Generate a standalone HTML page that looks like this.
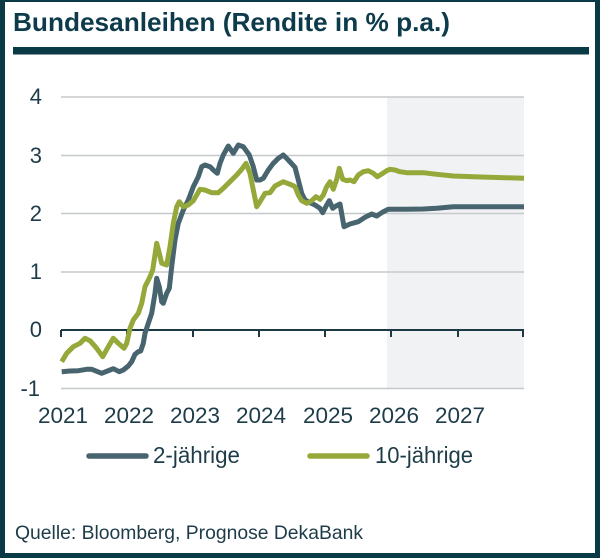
<!DOCTYPE html>
<html>
<head>
<meta charset="utf-8">
<style>
  html,body{margin:0;padding:0;background:#0b3a47;}
  svg{display:block;}
  text{font-family:"Liberation Sans",sans-serif;}
</style>
</head>
<body>
<svg width="600" height="558" viewBox="0 0 600 558" xmlns="http://www.w3.org/2000/svg">
  <rect x="0" y="0" width="600" height="558" fill="#0b3a47"/>
  <rect x="5" y="2" width="590" height="551" fill="#ffffff"/>

  <!-- Title -->
  <text x="13" y="31" font-size="26" font-weight="bold" fill="#0d3b4b" textLength="437" lengthAdjust="spacingAndGlyphs">Bundesanleihen (Rendite in % p.a.)</text>
  <rect x="13" y="47" width="576" height="7.5" fill="#0b3a47"/>

  <!-- Forecast shading -->
  <rect x="387" y="97" width="137" height="291" fill="#f0f2f3"/>

  <!-- Gridlines -->
  <g stroke="#c5c9cc" stroke-width="1.5">
    <line x1="61" y1="97" x2="524" y2="97"/>
    <line x1="61" y1="155.5" x2="524" y2="155.5"/>
    <line x1="61" y1="213.5" x2="524" y2="213.5"/>
    <line x1="61" y1="272" x2="524" y2="272"/>
    <line x1="61" y1="388.5" x2="524" y2="388.5"/>
  </g>
  <!-- Zero axis -->
  <line x1="61" y1="330" x2="524" y2="330" stroke="#1d3a44" stroke-width="2"/>
  <g stroke="#1d3a44" stroke-width="2">
    <line x1="61" y1="330" x2="61" y2="337"/>
    <line x1="127" y1="330" x2="127" y2="337"/>
    <line x1="193" y1="330" x2="193" y2="337"/>
    <line x1="259" y1="330" x2="259" y2="337"/>
    <line x1="325" y1="330" x2="325" y2="337"/>
    <line x1="391" y1="330" x2="391" y2="337"/>
    <line x1="458" y1="330" x2="458" y2="337"/>
    <line x1="523" y1="330" x2="523" y2="337"/>
  </g>

  <!-- Y labels -->
  <g font-size="22" fill="#1d3c48" text-anchor="end">
    <text x="42" y="104">4</text>
    <text x="42" y="163">3</text>
    <text x="42" y="221">2</text>
    <text x="42" y="279">1</text>
    <text x="42" y="337">0</text>
    <text x="40" y="396">-1</text>
  </g>

  <!-- X labels -->
  <g font-size="22.5" fill="#1d3c48" text-anchor="middle">
    <text x="63" y="423">2021</text>
    <text x="129" y="423">2022</text>
    <text x="195" y="423">2023</text>
    <text x="261" y="423">2024</text>
    <text x="328" y="423">2025</text>
    <text x="394" y="423">2026</text>
    <text x="460" y="423">2027</text>
  </g>

  <!-- 2-jährige -->
  <polyline fill="none" stroke="#47646f" stroke-width="5" stroke-linejoin="round" stroke-linecap="butt"
    points="61.7,371.7 70,371 78.3,370.7 86.7,369.3 91.7,369.3 101.7,373.3 110,370 113.3,368.7 119.3,371.7 123.3,370 128.3,366 131.7,361.7 135,354.3 138.3,351.7 140.7,351 143.3,343.3 145,333.3 148.3,323.3 151.7,313.3 155,293.3 156.7,278.3 159.3,286.7 161.7,301.7 163.3,303.3 166.7,293.3 169.3,288.3 171.7,266.7 175,240 178.3,223.3 183.3,210 188.3,200 193.3,186.7 198.3,176.7 201.7,166.7 205,165 210,166.7 213.3,170 217.3,173.3 220,163.3 223.3,155 228.3,146 233.3,153.3 238.3,145 243.3,146.7 249.3,155 253.3,166.7 256.7,180 260,180 263.3,178.3 268.3,170 273.3,163.3 278.3,158.3 283.3,155 288.3,160 295,167.3 298.3,180 301.7,193.3 305,200 310,202.7 315,205 320,208.3 322.7,212.7 326.7,205 329.3,200.7 332.7,208.3 336,206 340,204 344,226.7 350,224 358.3,221.7 365,217.3 371.7,214 376.7,216 383.3,211.7 388.3,209.3 406.7,209.3 423.3,209 436.7,208.3 453.3,206.7 524,206.7"/>

  <!-- 10-jährige -->
  <polyline fill="none" stroke="#95a83a" stroke-width="5" stroke-linejoin="round" stroke-linecap="butt"
    points="61.7,361.7 66.7,353.3 73.3,346.7 80,343.3 85,338.3 90,340.7 96.7,348.3 102.7,356.7 108.3,346.7 113.3,338.3 118.3,343.3 124,348.3 126.7,343.3 130,328.3 133.3,320 138.3,313.3 141.7,303.3 145,286.7 150,276.7 152.7,270 156.7,243.3 159.3,253.3 161.7,263.3 166.7,265 170,246.7 173.3,223.3 176.7,206.7 179.3,201.7 183.3,206.7 188.3,205 193.3,200.7 196.7,195 200,189.3 205,190 211.7,192.7 218.3,192.7 223.3,188.3 230,181.7 236.7,175 241.7,169.3 246,163.3 250,173.3 253.3,190 256.7,206.7 260,201.7 265,193.3 270,192.7 275,186 283.3,181.7 291.7,185 295,186.7 298.3,195 301.7,200.7 306.7,203.3 311.7,200.7 316,196.7 320,199.3 323.3,195 326.7,186.7 330,181.7 333.3,189.3 336.7,179.3 339.3,168.3 342.7,179.3 346.7,180.7 350,180 354,181.7 358.3,175 363.3,171.7 368.3,170.7 373.3,173.3 377.3,176.7 381.7,174 386.7,170.7 390,169.3 395,170 400,171.7 406.7,172.7 423.3,172.7 436.7,174.3 453.3,176 473.3,176.7 524,178.3"/>

  <!-- Legend -->
  <line x1="89" y1="456" x2="146" y2="456" stroke="#47646f" stroke-width="5.5" stroke-linecap="round"/>
  <text x="153" y="463" font-size="23" fill="#1d3c48" textLength="87" lengthAdjust="spacingAndGlyphs">2-jährige</text>
  <line x1="310" y1="456" x2="367" y2="456" stroke="#95a83a" stroke-width="5.5" stroke-linecap="round"/>
  <text x="375" y="463" font-size="23" fill="#1d3c48" textLength="98" lengthAdjust="spacingAndGlyphs">10-jährige</text>

  <!-- Source -->
  <text x="15" y="539" font-size="19.5" fill="#1d3c48" textLength="348" lengthAdjust="spacingAndGlyphs">Quelle: Bloomberg, Prognose DekaBank</text>
</svg>
</body>
</html>
